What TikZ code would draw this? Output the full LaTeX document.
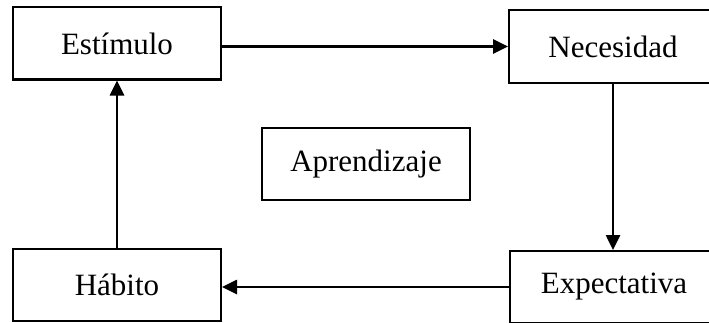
\documentclass[tikz,border=0pt]{standalone}
\usepackage{fontspec}
\setmainfont{Liberation Serif}
\usetikzlibrary{arrows.meta}

\tikzset{
    caja/.style={draw, line width=2pt, minimum width=208pt, minimum height=72pt, inner sep=0pt,
                 font=\fontsize{31}{36}\selectfont},
    flecha/.style={line width=2.6pt, -{Triangle[length=15pt,width=14pt]}}
}

\begin{document}
\begin{tikzpicture}[x=1pt, y=1pt]  % one unit is one pixel of the reference
    % Fix the page size
    \useasboundingbox (0,0) rectangle (709,322);

    % Draw the boxes
    \node[caja] (estimulo) at (117,278.5) {Estímulo};
    \node[caja] (necesidad) at (613,275.5) {Necesidad};
    \node[caja] (aprendizaje) at (366,158) {Aprendizaje};
    \node[caja] (habito) at (117,37) {Hábito};
    \node[caja] (expectativa) at (614,35) {Expectativa};

    % Draw the arrows of the cycle
    \draw[flecha] (estimulo.east |- necesidad.west) -- (necesidad.west);
    \draw[flecha] (necesidad.south) -- (necesidad.south |- expectativa.north);
    \draw[flecha] (expectativa.west) -- (expectativa.west -| habito.east);
    \draw[flecha] (habito.north) -- (estimulo.south);

\end{tikzpicture}
\end{document}
